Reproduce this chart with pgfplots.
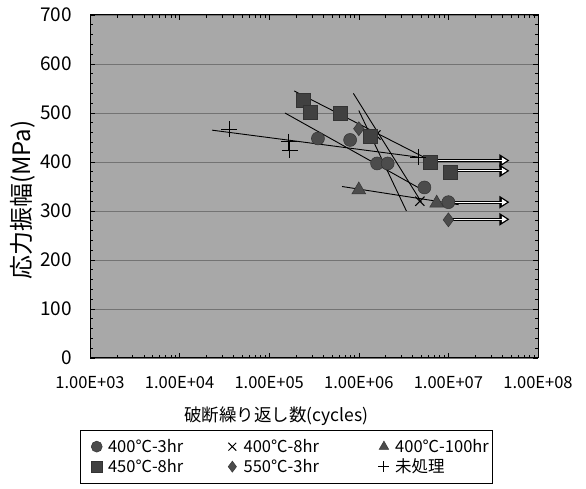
\documentclass[border=0pt]{standalone}
\usepackage{fontspec}
\setmainfont{Noto Sans CJK JP}
\usepackage{pgfplots}
\pgfplotsset{compat=1.18}
\usetikzlibrary{arrows.meta}

\definecolor{plotbg}{gray}{0.66}
\definecolor{mk}{gray}{0.30}

\pgfplotsset{
  fitline/.style={black, line width=0.9pt, forget plot},
  runout/.style={black, line width=3pt, -{Triangle[length=10pt,width=12pt]}, forget plot},
  runoutin/.style={white, line width=1pt, shorten >=2.5pt, shorten <=1pt, -{Triangle[length=5pt,width=6pt]}, forget plot},
}

\begin{document}
\begin{tikzpicture}
\useasboundingbox (0,0) rectangle (586pt,489pt);
\begin{axis}[
  at={(90pt,131pt)}, anchor=south west,
  scale only axis, width=448pt, height=343pt,
  xmode=log, xmin=1e3, xmax=1e8, ymin=0, ymax=700,
  xtick={1e3,1e4,1e5,1e6,1e7,1e8},
  xticklabels={1.00E+03,1.00E+04,1.00E+05,1.00E+06,1.00E+07,1.00E+08},
  ytick={0,100,...,700},
  minor y tick num=4,
  tick align=inside,
  major tick length=5pt, minor tick length=3pt,
  axis background/.style={fill=plotbg},
  ymajorgrids, grid style={black!55, line width=0.8pt},
  axis line style={black, line width=1pt},
  tick style={black, line width=0.6pt},
  /pgf/number format/assume math mode=true,
  xticklabel style={font=\fontsize{16.5}{18}\selectfont, anchor=north, inner sep=0pt, yshift=-18pt},
  yticklabel style={font=\fontsize{19}{21}\selectfont, anchor=east, inner sep=0pt, xshift=-18pt},
  xlabel={破断繰り返し数(cycles)},
  ylabel={応力振幅(MPa)},
  xlabel style={font=\fontsize{17.5}{20}\selectfont, at={(axis description cs:0.416,-0.169)}, anchor=center},
  ylabel style={font=\fontsize{24}{26}\selectfont, at={(axis description cs:-0.150,0.460)}, anchor=center, rotate=0},
  legend columns=3,
  legend cell align=left,
  legend image code/.code={\draw[#1, mark size=5.5pt] plot coordinates {(0pt,0pt)}; \path (-13pt,0pt) (9pt,0pt);},
  legend style={at={(axis description cs:-0.022,-0.210)}, anchor=north west,
    draw=black, line width=0.6pt, fill=white, inner xsep=3pt, inner ysep=7pt,
    font=\fontsize{16.5}{18}\selectfont, row sep=1pt},
  clip=false,
]
% regression lines
\addplot[fitline] coordinates {(2.3e4,465) (4.6e6,410)};
\addplot[fitline] coordinates {(1.9e5,545) (6.0e6,405)};
\addplot[fitline] coordinates {(1.5e5,500) (5.5e6,340)};
\addplot[fitline] coordinates {(8.7e5,540) (5.0e6,318)};
\addplot[fitline] coordinates {(1.0e6,505) (3.4e6,300)};
\addplot[fitline] coordinates {(6.5e5,350) (1.3e7,313)};
% run-outs
\addplot[runout] coordinates {(6.2e6,403) (4.8e7,403)};
\addplot[runoutin] coordinates {(6.2e6,403) (4.8e7,403)};
\addplot[runout] coordinates {(1.05e7,382) (4.8e7,382)};
\addplot[runoutin] coordinates {(1.05e7,382) (4.8e7,382)};
\addplot[runout] coordinates {(1.0e7,318) (4.8e7,318)};
\addplot[runoutin] coordinates {(1.0e7,318) (4.8e7,318)};
\addplot[runout] coordinates {(1.0e7,283) (4.8e7,283)};
\addplot[runoutin] coordinates {(1.0e7,283) (4.8e7,283)};
% data
\addplot[only marks, mark=*, mark size=6.5pt, mark options={fill=mk, draw=black!80, line width=0.5pt}]
  coordinates {(3.5e5,448) (8.0e5,445) (1.6e6,397) (2.1e6,397) (5.4e6,348) (1.0e7,318)};
\addlegendentry{\makebox[109pt][l]{400℃-3hr}}
\addplot[only marks, mark=x, mark size=6.5pt, mark options={draw=black, line width=1pt}]
  coordinates {(1.55e6,455) (4.8e6,320)};
\addlegendentry{\makebox[125pt][l]{400℃-8hr}}
\addplot[only marks, mark=triangle*, mark size=8pt, mark options={fill=mk, draw=black!80, line width=0.5pt}]
  coordinates {(1.0e6,343) (7.4e6,316)};
\addlegendentry{\makebox[92pt][l]{400℃-100hr}}
\addplot[only marks, mark=square*, mark size=7pt, mark options={fill=mk!85!black, draw=black!80, line width=0.5pt}]
  coordinates {(2.4e5,525) (2.9e5,502) (6.2e5,500) (1.35e6,452) (6.2e6,400) (1.05e7,380)};
\addlegendentry{\makebox[109pt][l]{450℃-8hr}}
\addplot[only marks, mark=diamond*, mark size=7pt, mark options={fill=mk, draw=black!80, line width=0.5pt}]
  coordinates {(1.0e6,468) (1.0e7,282)};
\addlegendentry{\makebox[125pt][l]{550℃-3hr}}
\addplot[only marks, mark=+, mark size=8pt, mark options={draw=black, line width=0.9pt}]
  coordinates {(3.6e4,467) (1.66e5,441) (1.7e5,424) (4.6e6,410)};
\addlegendentry{\makebox[92pt][l]{未処理}}
\end{axis}
\end{tikzpicture}
\end{document}
